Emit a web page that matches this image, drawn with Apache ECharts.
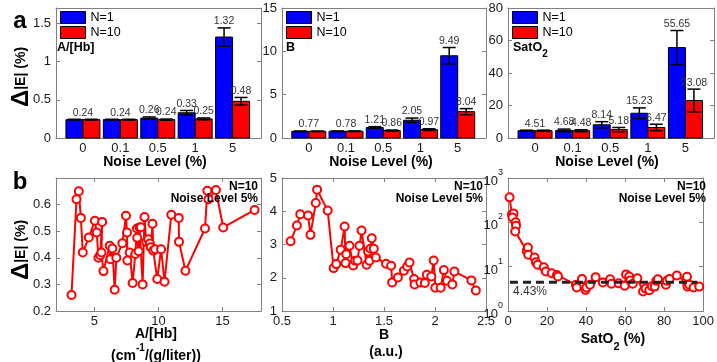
<!DOCTYPE html>
<html><head><meta charset="utf-8">
<script src="https://cdn.jsdelivr.net/npm/echarts@6/dist/echarts.min.js"></script>
<style>html,body{margin:0;padding:0;background:#fff}#c{width:717px;height:362px}</style>
</head><body><div id="c"></div><script>
const FONT='"Liberation Sans", Arial, Helvetica, sans-serif';
const AXC='#808080', TXT='#1a1a1a', BLUE='#0000ff', RED='#ff0000';

// ---------- data: panel a (bars) ----------
const noiseCats=['0','0.1','0.5','1','5'];
const hbN1=[0.24,0.24,0.26,0.33,1.32];
const hbN10=[0.24,0.24,0.24,0.25,0.48];
const hbErrN1=[0.005,0.005,0.015,0.03,0.12];
const hbErrN10=[0.005,0.005,0.008,0.012,0.05];
const bN1=[0.77,0.78,1.21,2.05,9.49];
const bN10=[0.77,0.78,0.86,0.97,3.04];
const bErrN1=[0.03,0.03,0.1,0.25,0.95];
const bErrN10=[0.03,0.03,0.06,0.1,0.35];
const satN1=[4.51,4.68,8.14,15.23,55.65];
const satN10=[4.51,4.48,5.18,6.47,23.08];
const satErrN1=[0.3,0.8,1.9,3.3,10.5];
const satErrN10=[0.3,0.6,1.3,2,7];
const hbTickStep=0.5, bTickStep=5, satTickStep=20;

// ---------- data: panel b (scatter lines) ----------
const b1X=[3.21,3.60,3.78,3.94,4.09,4.56,5.03,5.18,5.31,5.45,5.60,5.55,5.70,6.19,6.25,6.40,6.58,6.71,7.18,7.46,7.54,7.57,7.75,7.98,8.19,8.32,8.34,8.45,8.52,8.62,8.76,8.91,9.04,9.20,9.33,9.40,9.53,9.59,9.74,9.90,10.20,10.47,11.00,11.58,11.60,12.10,13.63,13.81,13.90,14.48,15.05,17.50];
const b1Y=[0.26,0.62,0.65,0.55,0.42,0.476,0.539,0.495,0.40,0.41,0.535,0.42,0.35,0.445,0.395,0.435,0.28,0.40,0.455,0.558,0.495,0.39,0.42,0.305,0.414,0.51,0.475,0.425,0.514,0.515,0.30,0.553,0.46,0.47,0.454,0.44,0.528,0.427,0.432,0.32,0.432,0.31,0.562,0.55,0.46,0.351,0.51,0.652,0.62,0.655,0.514,0.58];
const b2X=[0.584,0.646,0.679,0.756,0.779,0.831,0.844,0.948,1.006,1.032,1.075,1.114,1.123,1.13,1.162,1.198,1.217,1.24,1.26,1.28,1.33,1.344,1.357,1.367,1.38,1.40,1.42,1.52,1.57,1.58,1.636,1.695,1.727,1.75,1.795,1.80,1.857,1.90,1.92,1.964,1.987,2.003,2.055,2.087,2.117,2.17,2.19,2.357,2.40];
const b2Y=[3.10,3.57,3.91,3.87,3.29,4.25,4.65,4.02,2.29,2.41,2.84,3.54,2.44,2.71,2.96,2.37,2.51,2.52,2.96,3.42,2.39,2.79,2.51,2.87,3.19,2.87,2.61,2.42,2.36,1.86,2.01,2.21,2.34,2.46,1.96,1.80,1.86,1.84,2.09,2.04,2.52,1.70,1.70,2.23,1.91,1.80,2.19,1.92,1.62];
const b3X=[0.8,2.0,2.8,2.3,3.9,4.1,3.7,9.6,10.2,10.4,13.6,14.3,15.2,18.3,19.4,22.4,25.1,25.6,34.8,35.2,37.9,39.7,40.2,42.0,44.9,48.6,52.3,53.0,56.7,59.8,60.5,62.1,62.7,63.9,66.3,69.2,70.5,72.4,73.7,75.2,76.0,76.8,80.9,81.4,82.8,86.5,91.4,91.7,92.0,92.9,95.1,98.0];
const b3Y=[366,150,159,129,100,84,62,22.7,27,18.5,16,12.6,11,9.7,7.8,7.1,6.5,6.0,3.9,3.4,5.3,3.0,3.4,3.9,5.8,4.4,5.2,4.1,4.2,3.7,6.7,6.0,4.9,4.1,5.5,2.75,3.2,2.95,3.6,3.55,4.8,5.2,3.9,4.8,5.3,6.3,4.6,5.9,3.55,3.9,3.4,3.55];
const satRef=4.43, satRefFrom=1, satRefTo=97;
const b1XTicks=[5,10,15], b1YTicks=[0.2,0.3,0.4,0.5,0.6];
const b2XTicks=[0.5,1,1.5,2,2.5], b2YTicks=[1,2,3,4,5];
const b3XTicks=[0,20,40,60,80,100], b3YTicks=[1,10,100,1000];

// ---------- layout ----------
const G=[
 {left:56,top:8,width:205,height:130},
 {left:282,top:8,width:204,height:130},
 {left:508,top:8,width:206,height:130},
 {left:56,top:178,width:205,height:133},
 {left:282,top:178,width:204,height:133},
 {left:508,top:178,width:206,height:133}
];
const BW=17, CAP=6.5;

function axisPair(dim, gi, cfg){
  const common={gridIndex:gi,type:cfg.type||'value',min:cfg.min,max:cfg.max,splitLine:{show:false},
    axisLine:{show:true,onZero:false,lineStyle:{color:AXC,width:1}}};
  if(cfg.type==='log') common.logBase=10;
  if(cfg.interval) common.interval=cfg.interval;
  const tick={show:!cfg.noTick,inside:true,length:4,lineStyle:{color:AXC}};
  if(cfg.vals) tick.customValues=cfg.vals;
  const lab={show:true,color:TXT,fontSize:13,fontFamily:FONT,margin:dim==='x'?4:5,hideOverlap:false};
  if(cfg.vals) lab.customValues=cfg.vals;
  if(cfg.fmt) lab.formatter=cfg.fmt;
  if(cfg.rich) lab.rich=cfg.rich;
  const main=Object.assign({},common,{position:dim==='x'?'bottom':'left',axisTick:tick,axisLabel:lab});
  const mirror=Object.assign({},common,{position:dim==='x'?'top':'right',axisTick:Object.assign({},tick),axisLabel:{show:false}});
  return [main,mirror];
}
const catFmt=v=>noiseCats[Math.round(v)];
const stepFmt=s=>v=>(Math.abs(v/s-Math.round(v/s))<1e-6?String(+v.toFixed(4)):'');
const xCfgBar={min:-0.72,max:4.76,vals:[0,1,2,3,4],fmt:catFmt,noTick:true};
const logRich={b:{fontSize:13,color:TXT,fontFamily:FONT,lineHeight:20,verticalAlign:'bottom'},s:{fontSize:9,color:TXT,fontFamily:FONT,verticalAlign:'top'}};
const xAxes=[], yAxes=[];
const cfgs=[
 [xCfgBar,{min:0,max:1.7,interval:hbTickStep,fmt:stepFmt(hbTickStep)}],
 [xCfgBar,{min:0,max:15,interval:bTickStep,fmt:stepFmt(bTickStep)}],
 [xCfgBar,{min:0,max:80,interval:satTickStep,fmt:stepFmt(satTickStep)}],
 [{min:2,max:18,vals:b1XTicks},{min:0.2,max:0.7,vals:b1YTicks}],
 [{min:0.5,max:2.5,vals:b2XTicks},{min:1,max:5,vals:b2YTicks}],
 [{min:0,max:100,vals:b3XTicks},{type:'log',min:1,max:1000,vals:b3YTicks,fmt:v=>'{b|10}{s|'+Math.round(Math.log10(v))+'}',rich:logRich}]
];
cfgs.forEach((c,gi)=>{xAxes.push(...axisPair('x',gi,c[0]));yAxes.push(...axisPair('y',gi,c[1]));});

function barItem(vals,other,otherErr,side){
  return function(params,api){
    const i=api.value(0), v=api.value(1), e=api.value(2);
    const p0=api.coord([i,0]), p1=api.coord([i,v]);
    const x0=side<0?p0[0]-BW:p0[0];
    const cx=x0+BW/2;
    const yt=api.coord([i,v+e])[1], yb=api.coord([i,v-e])[1];
    const ls={stroke:'#000',lineWidth:1.5};
    const children=[
      {type:'rect',shape:{x:x0,y:p1[1],width:BW,height:p0[1]-p1[1]},style:{fill:api.visual('color'),stroke:'#000',lineWidth:1}},
      {type:'line',shape:{x1:cx,y1:yt,x2:cx,y2:yb},style:ls},
      {type:'line',shape:{x1:cx-CAP,y1:yt,x2:cx+CAP,y2:yt},style:ls},
      {type:'line',shape:{x1:cx-CAP,y1:yb,x2:cx+CAP,y2:yb},style:ls}
    ];
    const txt=vals[i].toFixed(2), otxt=other[i].toFixed(2);
    let lx=cx, ly=yt, show=true;
    if(txt===otxt){
      if(side<0){lx=p0[0]; ly=Math.min(yt,api.coord([i,other[i]+otherErr[i]])[1]);} else show=false;
    }
    if(show) children.push({type:'text',x:lx,y:ly-1,style:{text:txt,fill:'#333',fontSize:10.5,fontFamily:FONT,align:'center',verticalAlign:'bottom',textAlign:'center',textVerticalAlign:'bottom'}});
    return {type:'group',children};
  };
}
const series=[];
const barSets=[[hbN1,hbErrN1,hbN10,hbErrN10],[bN1,bErrN1,bN10,bErrN10],[satN1,satErrN1,satN10,satErrN10]];
barSets.forEach((s,gi)=>{
  const [v1,e1,v10,e10]=s;
  series.push({type:'custom',name:'N=1',xAxisIndex:2*gi,yAxisIndex:2*gi,itemStyle:{color:BLUE},clip:false,
    data:v1.map((v,i)=>[i,v,e1[i]]),encode:{x:0,y:1},renderItem:barItem(v1,v10,e10,-1)});
  series.push({type:'custom',name:'N=10',xAxisIndex:2*gi,yAxisIndex:2*gi,itemStyle:{color:RED},clip:false,
    data:v10.map((v,i)=>[i,v,e10[i]]),encode:{x:0,y:1},renderItem:barItem(v10,v1,e1,1)});
});
const zip=(a,b)=>a.map((x,i)=>[x,b[i]]);
[[b1X,b1Y],[b2X,b2Y],[b3X,b3Y]].forEach((d,k)=>{
  const gi=3+k;
  series.push({type:'line',xAxisIndex:2*gi,yAxisIndex:2*gi,data:zip(d[0],d[1]),symbol:'emptyCircle',symbolSize:8,
    lineStyle:{color:RED,width:2},itemStyle:{color:RED,borderWidth:1.5},z:2});
});
series.push({type:'line',xAxisIndex:10,yAxisIndex:10,data:[[satRefFrom,satRef],[satRefTo,satRef]],symbol:'none',
  lineStyle:{color:'#222',width:3,type:[8,5]},z:3});

const legends=G.slice(0,3).map(g=>({orient:'vertical',left:g.left+4,top:11,padding:0,itemWidth:25,itemHeight:12,itemGap:2,icon:'rect',
  selectedMode:false,data:['N=1','N=10'],textStyle:{fontSize:12.5,color:'#000',fontFamily:FONT},
  itemStyle:{borderColor:'#000',borderWidth:1}}));

function T(x,y,text,o){
  o=o||{};
  return {type:'text',x,y,rotation:o.rot||0,silent:true,z:100,style:{text,fontSize:o.size||13,fontWeight:o.bold?'bold':'normal',
    fontFamily:FONT,fill:o.fill||'#000',textAlign:o.align||'center',align:o.align||'center',textVerticalAlign:'middle',verticalAlign:'middle',rich:o.rich}};
}
const yRich={d:{fontSize:24,fontWeight:'bold',fontFamily:FONT,fill:'#000'},t:{fontSize:14,fontWeight:'bold',fontFamily:FONT,fill:'#000'}};
const supRich={m:{fontSize:14,fontWeight:'bold',fontFamily:FONT,lineHeight:20,verticalAlign:'bottom'},p:{fontSize:10,fontWeight:'bold',fontFamily:FONT,verticalAlign:'top'}};
const subRich={m:{fontSize:14,fontWeight:'bold',fontFamily:FONT,lineHeight:20,verticalAlign:'top'},p:{fontSize:11,fontWeight:'bold',fontFamily:FONT,verticalAlign:'bottom'}};
const subRichSmall={m:{fontSize:12.5,fontWeight:'bold',fontFamily:FONT,lineHeight:18,verticalAlign:'top'},p:{fontSize:10,fontWeight:'bold',fontFamily:FONT,verticalAlign:'bottom'}};
const elements=[
  T(20,21,'a',{size:24,bold:true}),
  T(20,182,'b',{size:24,bold:true}),
  T(21,77,'{d|Δ}{t||E| (%)}',{rot:Math.PI/2,rich:yRich}),
  T(21,250,'{d|Δ}{t||E| (%)}',{rot:Math.PI/2,rich:yRich}),
  T(155,162,'Noise Level (%)',{size:14,bold:true}),
  T(381,162,'Noise Level (%)',{size:14,bold:true}),
  T(607,162,'Noise Level (%)',{size:14,bold:true}),
  T(57,48,'A/[Hb]',{size:12.5,bold:true,align:'left'}),
  T(286,48,'B',{size:12.5,bold:true,align:'left'}),
  T(513,50,'{m|SatO}{p|2}',{align:'left',rich:subRichSmall}),
  T(156,334,'A/[Hb]',{size:14,bold:true}),
  T(156,353,'{m|(cm}{p|-1}{m|/(g/liter))}',{rich:supRich}),
  T(384,335,'B',{size:14,bold:true}),
  T(386,352,'(a.u.)',{size:14,bold:true}),
  T(613,342,'{m|SatO}{p|2}{m| (%)}',{rich:subRich}),
  T(530,292,'4.43%',{size:12,fill:'#333'})
];
[261,486,709].forEach(r=>{
  elements.push(T(r-3,187,'N=10',{size:12,bold:true,align:'right'}));
  elements.push(T(r-3,199,'Noise Level 5%',{size:12,bold:true,align:'right'}));
});

const chart=echarts.init(document.getElementById('c'),null,{renderer:'canvas'});
chart.setOption({
  animation:false,backgroundColor:'#fff',
  grid:G.map(g=>Object.assign({containLabel:false},g)),
  xAxis:xAxes,yAxis:yAxes,legend:legends,series,
  graphic:{elements}
});
</script></body></html>
